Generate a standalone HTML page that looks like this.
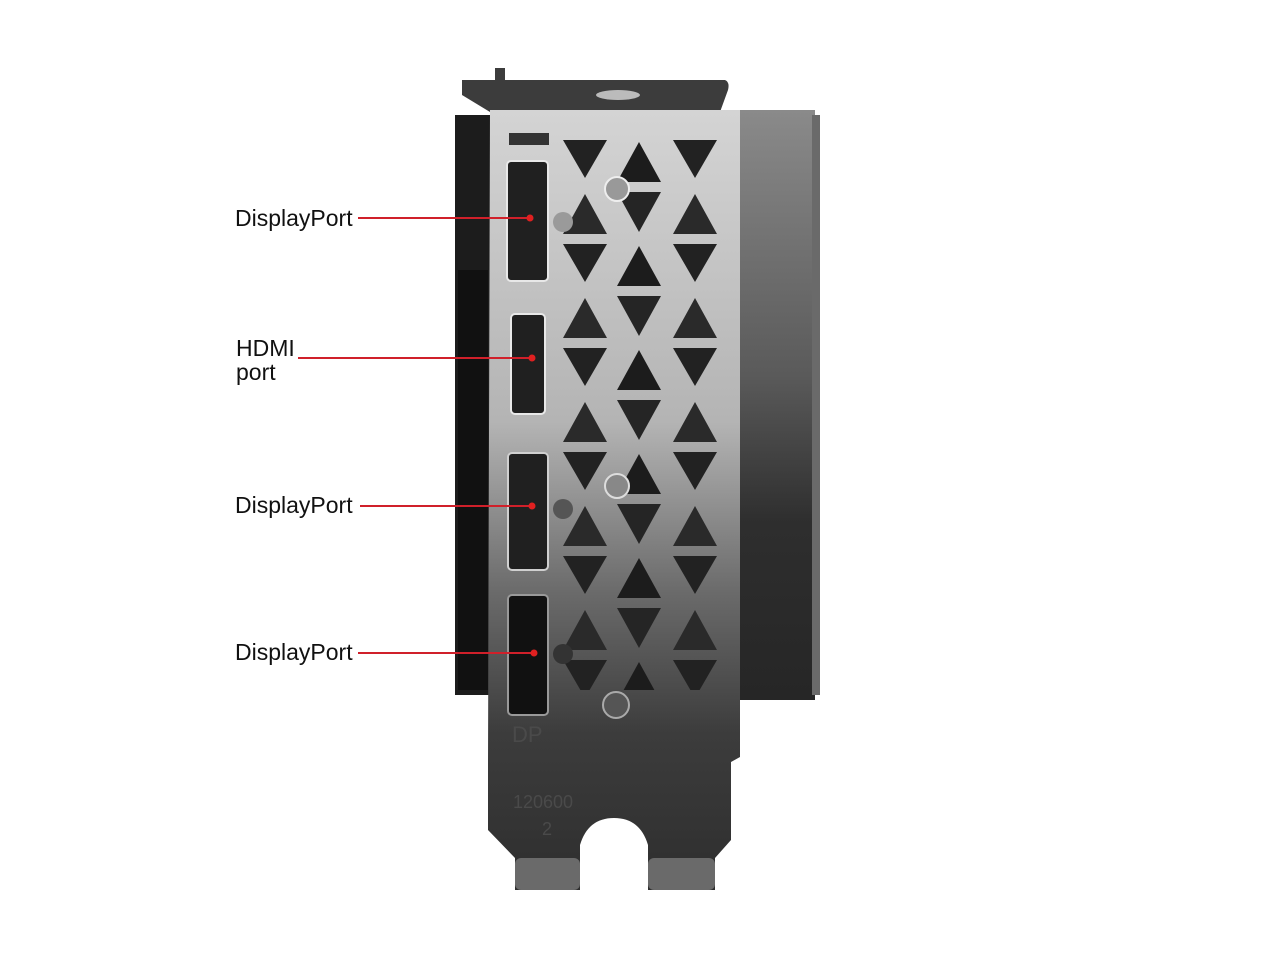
<!DOCTYPE html>
<html><head><meta charset="utf-8"><style>
html,body{margin:0;padding:0;background:#fff;}
.wrap{position:relative;width:1280px;height:960px;overflow:hidden;font-family:"Liberation Sans",Arial,sans-serif;}
.lbl{position:absolute;font-size:23px;color:#111;line-height:24px;}
</style></head><body><div class="wrap">
<svg width="1280" height="960" style="position:absolute;left:0;top:0">
<defs>
<linearGradient id="pl" x1="0" y1="0" x2="0" y2="1">
<stop offset="0" stop-color="#d4d4d4"/><stop offset="0.4" stop-color="#b4b4b4"/><stop offset="0.62" stop-color="#6a6a6a"/><stop offset="0.8" stop-color="#3c3c3c"/><stop offset="1" stop-color="#2e2e2e"/></linearGradient>
<linearGradient id="hs" x1="0" y1="0" x2="0" y2="1">
<stop offset="0" stop-color="#8a8a8a"/><stop offset="0.45" stop-color="#5a5a5a"/><stop offset="0.7" stop-color="#2e2e2e"/><stop offset="1" stop-color="#262626"/></linearGradient>
<pattern id="tri" x="557" y="136" width="110" height="104" patternUnits="userSpaceOnUse">
<polygon points="6,4 50,4 28,42" fill="#222"/>
<polygon points="82,6 60,46 104,46" fill="#1c1c1c"/>
<polygon points="28,58 6,98 50,98" fill="#2a2a2a"/>
<polygon points="60,56 104,56 82,96" fill="#252525"/>
</pattern>
</defs>
<rect x="455" y="115" width="38" height="580" fill="#1c1c1c"/>
<rect x="458" y="270" width="30" height="420" fill="#111"/>
<rect x="735" y="110" width="80" height="590" fill="url(#hs)"/>
<rect x="812" y="115" width="8" height="580" fill="#6a6a6a"/>
<path d="M462,80 L495,80 L495,68 L505,68 L505,80 L725,80 Q730,82 728,90 L720,112 L490,112 L462,95 Z" fill="#3c3c3c"/>
<ellipse cx="618" cy="95" rx="22" ry="5" fill="#bbb"/>
<path d="M490,110 L740,110 L740,757 L731,762 L731,840 L715,858 L715,890 L648,890 L648,845 Q640,818 614,818 Q588,818 580,845 L580,890 L515,890 L515,858 L488,830 L488,760 Z" fill="url(#pl)"/>
<rect x="515" y="858" width="65" height="32" rx="6" fill="#6a6a6a"/>
<rect x="648" y="858" width="67" height="32" rx="6" fill="#6a6a6a"/>
<rect x="557" y="136" width="165" height="554" fill="url(#tri)"/>
<rect x="509" y="133" width="40" height="12" fill="#333"/>
<circle cx="617" cy="189" r="12" fill="#999" stroke="#eee" stroke-width="2"/>
<circle cx="563" cy="222" r="10" fill="#9a9a9a"/>
<circle cx="617" cy="486" r="12" fill="#888" stroke="#ddd" stroke-width="2"/>
<circle cx="563" cy="509" r="10" fill="#555"/>
<circle cx="563" cy="654" r="10" fill="#333"/>
<circle cx="616" cy="705" r="13" fill="#555" stroke="#aaa" stroke-width="2"/>
<rect x="507" y="161" width="41" height="120" rx="4" fill="#202020" stroke="#e8e8e8" stroke-width="2"/>
<rect x="511" y="314" width="34" height="100" rx="4" fill="#202020" stroke="#e8e8e8" stroke-width="2"/>
<rect x="508" y="453" width="40" height="117" rx="4" fill="#202020" stroke="#d0d0d0" stroke-width="2"/>
<rect x="508" y="595" width="40" height="120" rx="4" fill="#111" stroke="#999" stroke-width="2"/>
<text x="512" y="742" font-family="Liberation Sans" font-size="22" fill="#4a4a4a">DP</text>
<text x="513" y="808" font-family="Liberation Sans" font-size="18" fill="#4a4a4a">120600</text>
<text x="542" y="835" font-family="Liberation Sans" font-size="18" fill="#4a4a4a">2</text>
<g stroke="#d0202a" stroke-width="2">
<line x1="358" y1="218" x2="530" y2="218"/>
<line x1="298" y1="358" x2="532" y2="358"/>
<line x1="360" y1="506" x2="532" y2="506"/>
<line x1="358" y1="653" x2="534" y2="653"/>
</g>
<g fill="#e02020">
<circle cx="530" cy="218" r="3.5"/><circle cx="532" cy="358" r="3.5"/><circle cx="532" cy="506" r="3.5"/><circle cx="534" cy="653" r="3.5"/>
</g>
</svg>
<div class="lbl" style="left:235px;top:206px">DisplayPort</div>
<div class="lbl" style="left:236px;top:336px">HDMI<br>port</div>
<div class="lbl" style="left:235px;top:493px">DisplayPort</div>
<div class="lbl" style="left:235px;top:640px">DisplayPort</div>
</div></body></html>
